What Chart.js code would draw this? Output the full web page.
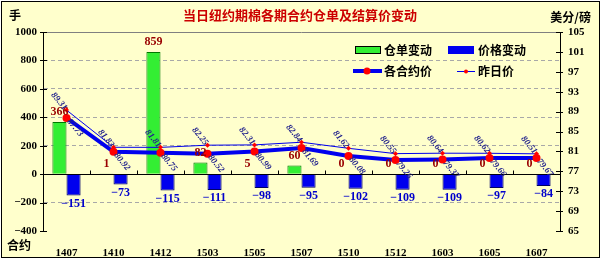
<!DOCTYPE html>
<html>
<head>
<meta charset="utf-8">
<script src="https://cdn.jsdelivr.net/npm/chart.js@4"></script>
<style>
  html, body { margin: 0; padding: 0; background: #fff; }
  #wrap { width: 604px; height: 261px; }
</style>
</head>
<body>
<div id="wrap"><canvas id="chart" width="604" height="261"></canvas></div>
<script>
const contracts = ['1407', '1410', '1412', '1503', '1505', '1507', '1510', '1512', '1603', '1605', '1607'];
const receiptChange = [366, 1, 859, 82, 5, 60, 0, 0, 0, 0, 0];
const priceChange = [-151, -73, -115, -111, -98, -95, -102, -109, -109, -97, -84];
const settlePrice = [87.73, 80.92, 80.75, 80.52, 80.99, 81.69, 80.08, 79.26, 79.37, 79.66, 79.67];
const prevPrice = [89.31, 81.83, 81.81, 82.25, 82.31, 82.84, 81.62, 80.55, 80.64, 80.62, 80.51];

const leftTicks = { min: -400, max: 1000, step: 200 };
const rightTicks = { min: 65, max: 105, step: 4 };

const BG = '#FFFFCC';
const CJK_FONT = '"Noto Sans CJK SC", sans-serif';
const tickFont = { family: '"Liberation Serif", serif', size: 11, weight: 'bold' };

const frame = {
  id: 'frame',
  beforeDraw(chart) {
    const ctx = chart.ctx;
    ctx.save();
    ctx.fillStyle = '#fff';
    ctx.fillRect(0, 0, chart.width, chart.height);
    ctx.fillStyle = BG;
    ctx.fillRect(1, 1, 599, 257);
    ctx.strokeStyle = '#000';
    ctx.lineWidth = 1;
    ctx.strokeRect(1.5, 1.5, 598, 256);

    // titles
    ctx.textBaseline = 'middle';
    ctx.fillStyle = '#CC0000';
    ctx.font = 'bold 13px ' + CJK_FONT;
    ctx.textAlign = 'center';
    ctx.fillText('当日纽约期棉各期合约仓单及结算价变动', 300, 15);
    ctx.fillStyle = '#000';
    ctx.font = 'bold 12px ' + CJK_FONT;
    ctx.textAlign = 'left';
    ctx.fillText('手', 9, 15);
    ctx.fillText('合约', 7, 245);
    ctx.textAlign = 'right';
    ctx.fillText('美分/磅', 591, 17);
    ctx.restore();
  },
  beforeDatasetsDraw(chart) {
    const { ctx, chartArea, scales } = chart;
    ctx.save();
    // top border of plot
    ctx.strokeStyle = '#808080';
    ctx.lineWidth = 1;
    ctx.beginPath();
    ctx.moveTo(chartArea.left, chartArea.top + 0.5);
    ctx.lineTo(chartArea.right, chartArea.top + 0.5);
    ctx.stroke();
    // zero line with category ticks
    const y0 = Math.round(scales.y.getPixelForValue(0)) + 0.5;
    ctx.strokeStyle = '#000';
    ctx.beginPath();
    ctx.moveTo(chartArea.left, y0);
    ctx.lineTo(chartArea.right, y0);
    for (let i = 0; i <= contracts.length; i++) {
      const bx = Math.round(chartArea.left + (chartArea.right - chartArea.left) * i / contracts.length) + 0.5;
      ctx.moveTo(bx, y0);
      ctx.lineTo(bx, y0 - 4);
    }
    // tick marks on the value axes
    for (let v = rightTicks.min; v <= rightTicks.max; v += rightTicks.step) {
      const yy = Math.round(scales.y1.getPixelForValue(v)) + 0.5;
      ctx.moveTo(chartArea.right - 4, yy);
      ctx.lineTo(chartArea.right + 3, yy);
    }
    for (let v = leftTicks.min; v <= leftTicks.max; v += leftTicks.step) {
      const yy = Math.round(scales.y.getPixelForValue(v)) + 0.5;
      ctx.moveTo(chartArea.left - 3, yy);
      ctx.lineTo(chartArea.left + 4, yy);
    }
    ctx.stroke();
    ctx.restore();
  },
  afterDatasetsDraw(chart) {
    const ctx = chart.ctx;
    ctx.save();
    ctx.textAlign = 'center';
    ctx.textBaseline = 'middle';
    ctx.font = 'bold 12px "Liberation Serif", serif';

    const green = chart.getDatasetMeta(0).data;
    green.forEach((bar, i) => {
      ctx.fillStyle = '#990000';
      ctx.fillText(String(receiptChange[i]), bar.x, Math.min(bar.y, bar.base) - 10);
    });
    const blue = chart.getDatasetMeta(1).data;
    blue.forEach((bar, i) => {
      ctx.fillStyle = '#0000CC';
      ctx.fillText(String(priceChange[i]).replace('-', '\u2212'), bar.x, Math.max(bar.y, bar.base) + 8);
    });

    // rotated price labels
    ctx.font = 'bold italic 9px "Liberation Serif", serif';
    ctx.fillStyle = '#22228c';
    const thick = chart.getDatasetMeta(2).data;
    thick.forEach((pt, i) => {
      ctx.save();
      ctx.translate(pt.x + 2, pt.y + 2);
      ctx.rotate(Math.PI * 0.28);
      ctx.textAlign = 'left';
      ctx.fillText(settlePrice[i].toFixed(2), 0, 0);
      ctx.restore();
    });
    const thin = chart.getDatasetMeta(3).data;
    thin.forEach((pt, i) => {
      ctx.save();
      ctx.translate(pt.x - 1, pt.y - 1);
      ctx.rotate(Math.PI * 0.28);
      ctx.textAlign = 'right';
      ctx.fillText(prevPrice[i].toFixed(2), 0, 0);
      ctx.restore();
    });
    ctx.restore();
  },
  afterDraw(chart) {
    const ctx = chart.ctx;
    const ds = chart.data.datasets;
    ctx.save();
    ctx.textBaseline = 'middle';
    ctx.textAlign = 'left';
    ctx.font = 'bold 12px ' + CJK_FONT;

    // bar swatches
    ctx.fillStyle = ds[0].backgroundColor;
    ctx.fillRect(355, 46, 25, 7);
    ctx.strokeStyle = '#000';
    ctx.lineWidth = 1;
    ctx.strokeRect(355.5, 46.5, 25, 7);
    ctx.fillStyle = '#000';
    ctx.fillText(ds[0].label, 384, 50);

    ctx.fillStyle = ds[1].backgroundColor;
    ctx.fillRect(448, 46, 26, 8);
    ctx.fillStyle = '#000';
    ctx.fillText(ds[1].label, 478, 50);

    // line swatches
    ctx.strokeStyle = ds[2].borderColor;
    ctx.lineWidth = 4;
    ctx.beginPath();
    ctx.moveTo(353, 71);
    ctx.lineTo(382, 71);
    ctx.stroke();
    ctx.fillStyle = '#FF0000';
    ctx.beginPath();
    ctx.arc(367, 71, 3.5, 0, Math.PI * 2);
    ctx.fill();
    ctx.fillStyle = '#000';
    ctx.fillText(ds[2].label, 384, 71);

    ctx.strokeStyle = ds[3].borderColor;
    ctx.lineWidth = 1;
    ctx.beginPath();
    ctx.moveTo(457, 71.5);
    ctx.lineTo(475, 71.5);
    ctx.stroke();
    ctx.fillStyle = '#FF0000';
    ctx.beginPath();
    ctx.arc(466, 71.5, 2, 0, Math.PI * 2);
    ctx.fill();
    ctx.fillStyle = '#000';
    ctx.fillText(ds[3].label, 478, 71);
    ctx.restore();
  }
};

new Chart(document.getElementById('chart'), {
  type: 'bar',
  data: {
    labels: contracts,
    datasets: [
      {
        label: '仓单变动',
        data: receiptChange,
        yAxisID: 'y',
        backgroundColor: '#33EE33',
        borderColor: '#007700',
        borderWidth: 1,
        categoryPercentage: 0.6,
        barPercentage: 1.0,
        order: 2
      },
      {
        label: '价格变动',
        data: priceChange,
        yAxisID: 'y',
        backgroundColor: '#0000EE',
        borderColor: '#000066',
        borderWidth: 1,
        categoryPercentage: 0.6,
        barPercentage: 1.0,
        order: 2
      },
      {
        type: 'line',
        label: '各合约价',
        data: settlePrice,
        yAxisID: 'y1',
        borderColor: '#0000EE',
        borderWidth: 4,
        pointRadius: 4,
        pointBackgroundColor: '#FF0000',
        pointBorderColor: '#FF0000',
        pointBorderWidth: 0,
        tension: 0,
        order: 0
      },
      {
        type: 'line',
        label: '昨日价',
        data: prevPrice,
        yAxisID: 'y1',
        borderColor: '#0000EE',
        borderWidth: 1,
        pointRadius: 2.5,
        pointStyle: 'rectRot',
        pointBackgroundColor: '#FF0000',
        pointBorderColor: '#FF0000',
        pointBorderWidth: 0,
        tension: 0,
        order: 1
      }
    ]
  },
  options: {
    responsive: false,
    animation: false,
    layout: { padding: { top: 32, left: 0, right: 0, bottom: 0 } },
    plugins: {
      legend: { display: false },
      title: { display: false },
      tooltip: { enabled: false }
    },
    scales: {
      x: {
        offset: true,
        grid: { display: false },
        border: { display: false },
        ticks: { color: '#000', font: tickFont, padding: 8, maxRotation: 0 },
        afterFit(scale) { scale.height = 30; }
      },
      y: {
        position: 'left',
        min: leftTicks.min,
        max: leftTicks.max,
        ticks: {
          stepSize: leftTicks.step,
          color: '#000',
          font: tickFont,
          padding: 6,
          callback: (v) => String(v).replace('-', '\u2212')
        },
        grid: {
          drawTicks: false,
          color: (c) => (c.tick && (c.tick.value === 0 || c.tick.value === leftTicks.max || c.tick.value === leftTicks.min)) ? 'rgba(0,0,0,0)' : '#A8A8A8'
        },
        border: { display: true, color: '#000', width: 1, dash: [4, 3] },
        afterFit(scale) { scale.width = 43; }
      },
      y1: {
        position: 'right',
        min: rightTicks.min,
        max: rightTicks.max,
        ticks: { stepSize: rightTicks.step, color: '#000', font: tickFont, padding: 8 },
        grid: { drawOnChartArea: false, drawTicks: false },
        border: { display: true, color: '#000', width: 1 },
        afterFit(scale) { scale.width = 44; }
      }
    }
  },
  plugins: [frame]
});
</script>
</body>
</html>
